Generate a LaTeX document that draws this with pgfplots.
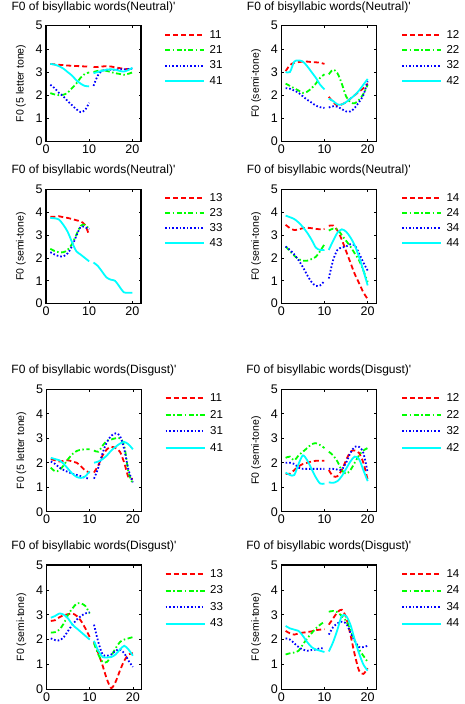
\documentclass[border=0pt]{standalone}
\usepackage{fontspec}
\setmainfont{Liberation Sans}
\usepackage{pgfplots}
\pgfplotsset{compat=1.18}
\definecolor{mred}{rgb}{1,0,0}
\definecolor{mgreen}{rgb}{0,1,0}
\definecolor{mblue}{rgb}{0,0,1}
\definecolor{mcyan}{rgb}{0,1,1}
\pgfplotsset{
 f0/.style={
  scale only axis, width=95pt, xmin=0, xmax=22, ymin=0, ymax=5,
  xtick={0,10,20}, ytick={0,1,2,3,4,5}, no markers,
  tick align=inside, major tick length=2.5pt,
  axis line style={line width=1.1pt},
  every tick/.style={black, line width=0.7pt},
  ticklabel style={font=\fontsize{12.5}{12.5}\selectfont},
  /pgf/number format/assume math mode=true,
  title style={at={(0.5,1)}, anchor=center, yshift=12.5pt, font=\fontsize{12}{12}\selectfont},
  ylabel style={at={(axis description cs:-0.265,0.5)}, anchor=center, font=\fontsize{10.5}{11}\selectfont},
  legend style={draw=none, fill=none, inner sep=0pt, at={(1,1)}, anchor=north west,
     column sep=4.5pt, font=\fontsize{11.5}{12}\selectfont,
     nodes={inner sep=0pt, minimum height=15.4pt}},
  legend cell align=left,
  legend image code/.code={\draw[##1, line width=2pt] (0pt,0pt) -- (39pt,0pt);},
  unbounded coords=jump,
 },
 s1/.style={mred, line width=1.8pt, dash pattern=on 5pt off 3pt, smooth},
 s2/.style={mgreen, line width=1.8pt, dash pattern=on 5pt off 2.5pt on 1.5pt off 2.5pt, smooth},
 s3/.style={mblue, line width=1.8pt, dash pattern=on 1.6pt off 2pt, smooth},
 s4/.style={mcyan, line width=1.8pt, smooth},
}
\newcommand{\ttl}[1]{F0 of bisyllabic words(#1)\textquotesingle}
\begin{document}
\begin{tikzpicture}
\useasboundingbox (0pt,0pt) rectangle (464pt,704pt);
% ---------------- Panel 1
\begin{axis}[f0, at={(46pt,562.5pt)}, anchor=south west, height=115.8pt,
  title={\ttl{Neutral}}, ylabel={F0 (5 letter tone)},
  legend style={xshift=23pt, yshift=-1.3pt}]
\addplot[s1] coordinates {(1,3.35)(2,3.33)(3,3.31)(4,3.30)(5,3.28)(6,3.27)(7,3.26)(8,3.25)(9,3.24)(10,3.23)(10.5,nan)(11,3.22)(12,3.22)(13,3.24)(14,3.25)(15,3.24)(16,3.20)(17,3.17)(18,3.14)(19,3.12)(20,3.12)};
\addplot[s2] coordinates {(1,2.09)(2,2.03)(3,2.0)(4,2.02)(5,2.1)(6,2.3)(7,2.5)(8,2.75)(9,2.92)(10,2.98)(10.5,nan)(11,3.0)(12,3.05)(13,3.07)(14,3.05)(15,3.0)(16,2.95)(17,2.92)(18,2.88)(19,2.92)(20,2.98)};
\addplot[s3] coordinates {(1,2.45)(2,2.3)(3,2.1)(4,1.95)(5,1.75)(6,1.57)(7,1.4)(8,1.27)(9,1.35)(10,1.67)(10.5,nan)(11,2.4)(12,2.85)(13,3.05)(14,3.1)(15,3.1)(16,3.1)(17,3.12)(18,3.12)(19,3.13)(20,3.15)};
\addplot[s4] coordinates {(1,3.35)(2,3.32)(3,3.25)(4,3.15)(5,3.0)(6,2.85)(7,2.65)(8,2.5)(9,2.4)(10,2.38)(10.5,nan)(11,2.95)(12,3.0)(13,3.05)(14,3.1)(15,3.12)(16,3.1)(17,3.05)(18,3.02)(19,3.08)(20,3.18)};
\legend{11,21,31,41}
\end{axis}
% ---------------- Panel 2
\begin{axis}[f0, at={(281.3pt,562.5pt)}, anchor=south west, height=115.8pt,
  title={\ttl{Neutral}}, ylabel={F0 (semi-tone)},
  legend style={xshift=24.5pt, yshift=-1.3pt}]
\addplot[s1] coordinates {(1,3.04)(2,3.3)(3,3.4)(4,3.43)(5,3.45)(6,3.45)(7,3.43)(8,3.42)(9,3.4)(10,3.35)(10.5,nan)(11,1.93)(12,1.7)(13,1.55)(14,1.6)(15,1.7)(16,1.85)(17,2.0)(18,2.15)(19,2.3)(20,2.5)};
\addplot[s2] coordinates {(1,2.5)(2,2.4)(3,2.3)(4,2.2)(5,2.1)(6,2.15)(7,2.3)(8,2.5)(9,2.75)(10,2.9)(10.5,nan)(11,2.9)(12,3.1)(13,2.95)(14,2.5)(15,1.95)(16,1.7)(17,1.65)(18,1.8)(19,2.05)(20,2.45)};
\addplot[s3] coordinates {(1,2.3)(2,2.28)(3,2.2)(4,2.1)(5,1.95)(6,1.8)(7,1.68)(8,1.55)(9,1.48)(10,1.45)(10.5,nan)(11,1.47)(12,1.52)(13,1.5)(14,1.4)(15,1.3)(16,1.3)(17,1.45)(18,1.7)(19,2.0)(20,2.6)};
\addplot[s4] coordinates {(1,3.0)(2,3.0)(3,3.45)(4,3.5)(5,3.45)(6,3.25)(7,3.0)(8,2.75)(9,2.45)(10,2.25)(10.5,nan)(11,1.85)(12,1.75)(13,1.6)(14,1.6)(15,1.7)(16,1.85)(17,2.0)(18,2.2)(19,2.45)(20,2.7)};
\legend{12,22,32,42}
\end{axis}
% ---------------- Panel 3
\begin{axis}[f0, at={(46pt,400.3pt)}, anchor=south west, height=114.4pt,
  title={\ttl{Neutral}}, ylabel={F0 (semi-tone)},
  legend style={xshift=23pt, yshift=-1.3pt, nodes={minimum height=15pt}}]
\addplot[s1] coordinates {(1,3.8)(2,3.8)(3,3.82)(4,3.78)(5,3.75)(6,3.7)(7,3.65)(8,3.6)(9,3.45)(10,3.0)};
\addplot[s2] coordinates {(1,2.4)(2,2.3)(3,2.25)(4,2.25)(5,2.35)(6,2.6)(7,3.0)(8,3.4)(9,3.45)(9.8,3.3)};
\addplot[s3] coordinates {(1,2.25)(2,2.15)(3,2.08)(4,2.07)(5,2.2)(6,2.5)(7,2.95)(8,3.35)(9,3.35)(10,3.25)};
\addplot[s4] coordinates {(1,3.75)(2,3.73)(3,3.68)(4,3.45)(5,3.15)(6,2.7)(7,2.3)(8,2.15)(9,2.0)(10,1.85)(10.5,nan)(11,1.8)(12,1.65)(13,1.4)(14,1.15)(15,1.05)(16,1.0)(17,0.75)(18,0.5)(19,0.48)(20,0.48)};
\legend{13,23,33,43}
\end{axis}
% ---------------- Panel 4
\begin{axis}[f0, at={(281.3pt,400.3pt)}, anchor=south west, height=114.4pt,
  title={\ttl{Neutral}}, ylabel={F0 (semi-tone)},
  legend style={xshift=24.5pt, yshift=-1.3pt, nodes={minimum height=15pt}}]
\addplot[s1] coordinates {(1,3.45)(2,3.3)(3,3.22)(4,3.25)(5,3.3)(6,3.32)(7,3.3)(8,3.27)(9,3.25)(10,3.27)(10.5,nan)(11,3.4)(12,3.42)(13,3.2)(14,2.8)(15,2.3)(16,1.8)(17,1.3)(18,0.9)(19,0.5)(20,0.2)};
\addplot[s2] coordinates {(1,2.5)(2,2.3)(3,2.1)(4,1.95)(5,1.88)(6,1.88)(7,1.95)(8,2.05)(9,2.3)(10,2.6)(10.5,nan)(11,3.2)(12,3.28)(13,3.25)(14,3.0)(15,2.75)(16,2.5)(17,2.2)(18,1.9)(19,1.45)(20,0.95)};
\addplot[s3] coordinates {(1,2.5)(2,2.35)(3,2.15)(4,1.9)(5,1.6)(6,1.25)(7,0.95)(8,0.78)(9,0.8)(10,1.0)(10.5,nan)(11,1.1)(12,1.9)(13,2.35)(14,2.45)(15,2.5)(16,2.6)(17,2.55)(18,2.2)(19,1.8)(20,1.45)};
\addplot[s4] coordinates {(1,3.85)(2,3.78)(3,3.7)(4,3.55)(5,3.35)(6,3.1)(7,2.8)(8,2.45)(9,2.35)(10,2.35)(10.5,nan)(11,2.35)(12,2.75)(13,3.1)(14,3.25)(15,3.15)(16,2.9)(17,2.55)(18,2.05)(19,1.45)(20,0.8)};
\legend{14,24,34,44}
\end{axis}
% ---------------- Panel 5
\begin{axis}[f0, at={(46.5pt,192.3pt)}, anchor=south west, height=122.4pt,
  title={\ttl{Disgust}}, ylabel={F0 (5 letter tone)},
  legend style={xshift=23pt, yshift=-0.7pt, nodes={minimum height=16.5pt}}]
\addplot[s1] coordinates {(1,2.15)(2,2.1)(3,2.05)(4,2.08)(5,2.1)(6,2.05)(7,2.0)(8,1.85)(9,1.68)(10,1.6)(10.5,nan)(11,1.6)(12,1.9)(13,2.3)(14,2.55)(15,2.65)(16,2.6)(17,2.45)(18,2.0)(19,1.4)(20,1.35)};
\addplot[s2] coordinates {(1,1.8)(2,1.65)(3,1.7)(4,1.9)(5,2.15)(6,2.35)(7,2.48)(8,2.53)(9,2.55)(10,2.55)(10.5,nan)(11,2.5)(12,2.45)(13,2.7)(14,2.9)(15,2.95)(16,3.0)(17,3.0)(18,2.7)(19,1.6)(20,1.15)};
\addplot[s3] coordinates {(1,2.05)(2,1.95)(3,1.8)(4,1.7)(5,1.62)(6,1.55)(7,1.5)(8,1.45)(9,1.38)(10,1.35)(10.5,nan)(11,1.35)(12,1.8)(13,2.4)(14,2.85)(15,3.1)(16,3.2)(17,3.1)(18,2.55)(19,1.7)(20,1.2)};
\addplot[s4] coordinates {(1,2.2)(2,2.15)(3,2.1)(4,1.95)(5,1.75)(6,1.55)(7,1.42)(8,1.38)(9,1.45)(10,1.65)(10.5,nan)(11,2.0)(12,2.05)(13,2.15)(14,2.3)(15,2.5)(16,2.65)(17,2.78)(18,2.85)(19,2.75)(20,2.55)};
\legend{11,21,31,41}
\end{axis}
% ---------------- Panel 6
\begin{axis}[f0, at={(281.3pt,192.3pt)}, anchor=south west, height=122.4pt,
  title={\ttl{Disgust}}, ylabel={F0 (semi-tone)},
  legend style={xshift=24.5pt, yshift=-0.7pt, nodes={minimum height=16.5pt}}]
\addplot[s1] coordinates {(1,1.55)(2,1.55)(3,1.7)(4,1.85)(5,1.95)(6,2.0)(7,2.05)(8,2.08)(9,2.08)(10,2.08)(10.5,nan)(11,1.7)(12,1.45)(13,1.45)(14,1.7)(15,2.1)(16,2.45)(17,2.5)(18,2.4)(19,2.0)(20,1.3)};
\addplot[s2] coordinates {(1,2.2)(2,2.25)(3,2.1)(4,2.3)(5,2.45)(6,2.6)(7,2.75)(8,2.8)(9,2.72)(10,2.6)(10.5,nan)(11,2.45)(12,2.3)(13,2.05)(14,1.7)(15,1.55)(16,1.7)(17,2.0)(18,2.3)(19,2.5)(20,2.6)};
\addplot[s3] coordinates {(1,2.0)(2,2.0)(3,1.95)(4,1.8)(5,1.75)(6,1.75)(7,1.75)(8,1.75)(9,1.75)(10,1.75)(10.5,nan)(11,1.75)(12,1.75)(13,1.72)(14,1.72)(15,2.0)(16,2.4)(17,2.65)(18,2.65)(19,2.4)(20,1.6)};
\addplot[s4] coordinates {(1,1.6)(2,1.5)(3,1.5)(4,1.95)(5,2.3)(6,2.1)(7,1.75)(8,1.4)(9,1.15)(10,1.15)(10.5,nan)(11,1.2)(12,1.18)(13,1.25)(14,1.45)(15,1.75)(16,2.05)(17,2.25)(18,2.15)(19,1.7)(20,1.25)};
\legend{12,22,32,42}
\end{axis}
% ---------------- Panel 7
\begin{axis}[f0, at={(46.5pt,14.7pt)}, anchor=south west, height=124.3pt,
  title={\ttl{Disgust}}, ylabel={F0 (semi-tone)},
  legend style={xshift=23pt, yshift=-0.7pt, nodes={minimum height=16.5pt}}]
\addplot[s1] coordinates {(1,2.75)(2,2.78)(3,2.9)(4,2.98)(5,3.02)(6,3.05)(7,2.95)(8,2.75)(9,2.45)(10,2.1)(10.5,nan)(11,1.9)(12,1.45)(13,0.95)(14,0.4)(15,0.05)(16,0.3)(17,0.75)(18,1.15)(19,1.4)(20,1.45)};
\addplot[s2] coordinates {(1,2.28)(2,2.3)(3,2.4)(4,2.65)(5,3.0)(6,3.25)(7,3.45)(8,3.45)(9,3.35)(10,3.05)(10.5,nan)(11,1.85)(12,1.4)(13,1.1)(14,1.1)(15,1.35)(16,1.65)(17,1.9)(18,2.0)(19,2.05)(20,2.1)};
\addplot[s3] coordinates {(1,2.05)(2,1.98)(3,1.97)(4,2.1)(5,2.35)(6,2.6)(7,2.8)(8,2.95)(9,3.05)(10,3.1)(10.5,nan)(11,2.6)(12,1.9)(13,1.4)(14,1.35)(15,1.4)(16,1.55)(17,1.6)(18,1.45)(19,1.15)(20,0.9)};
\addplot[s4] coordinates {(1,2.88)(2,2.95)(3,3.05)(4,3.0)(5,2.85)(6,2.6)(7,2.45)(8,2.3)(9,2.15)(10,2.0)(10.5,nan)(11,1.95)(12,1.55)(13,1.3)(14,1.28)(15,1.3)(16,1.4)(17,1.6)(18,1.75)(19,1.6)(20,1.35)};
\legend{13,23,33,43}
\end{axis}
% ---------------- Panel 8
\begin{axis}[f0, at={(281.3pt,14.7pt)}, anchor=south west, height=124.3pt,
  title={\ttl{Disgust}}, ylabel={F0 (semi-tone)},
  legend style={xshift=24.5pt, yshift=-0.7pt, nodes={minimum height=16.5pt}}]
\addplot[s1] coordinates {(1,2.35)(2,2.25)(3,2.2)(4,2.25)(5,2.28)(6,2.3)(7,2.33)(8,2.38)(9,2.4)(10,2.42)(10.5,nan)(11,2.6)(12,2.85)(13,3.1)(14,3.2)(15,2.9)(16,2.2)(17,1.4)(18,0.75)(19,0.62)(20,0.85)};
\addplot[s2] coordinates {(1,1.4)(2,1.45)(3,1.48)(4,1.55)(5,1.8)(6,2.05)(7,2.25)(8,2.45)(9,2.6)(10,2.72)(10.5,nan)(11,3.12)(12,3.15)(13,3.1)(14,2.95)(15,2.75)(16,2.4)(17,1.95)(18,1.6)(19,1.35)(20,1.1)};
\addplot[s3] coordinates {(1,2.05)(2,2.0)(3,1.85)(4,1.7)(5,1.6)(6,1.55)(7,1.58)(8,1.6)(9,1.65)(10,1.65)(10.5,nan)(11,2.2)(12,2.5)(13,2.65)(14,2.72)(15,2.65)(16,2.3)(17,1.95)(18,1.7)(19,1.7)(20,1.75)};
\addplot[s4] coordinates {(1,2.55)(2,2.45)(3,2.4)(4,2.35)(5,2.15)(6,1.9)(7,1.7)(8,1.6)(9,1.55)(10,1.5)(10.5,nan)(11,1.52)(12,1.9)(13,2.4)(14,2.95)(15,2.95)(16,2.6)(17,2.0)(18,1.45)(19,1.0)(20,0.75)};
\legend{14,24,34,44}
\end{axis}
\end{tikzpicture}
\end{document}
